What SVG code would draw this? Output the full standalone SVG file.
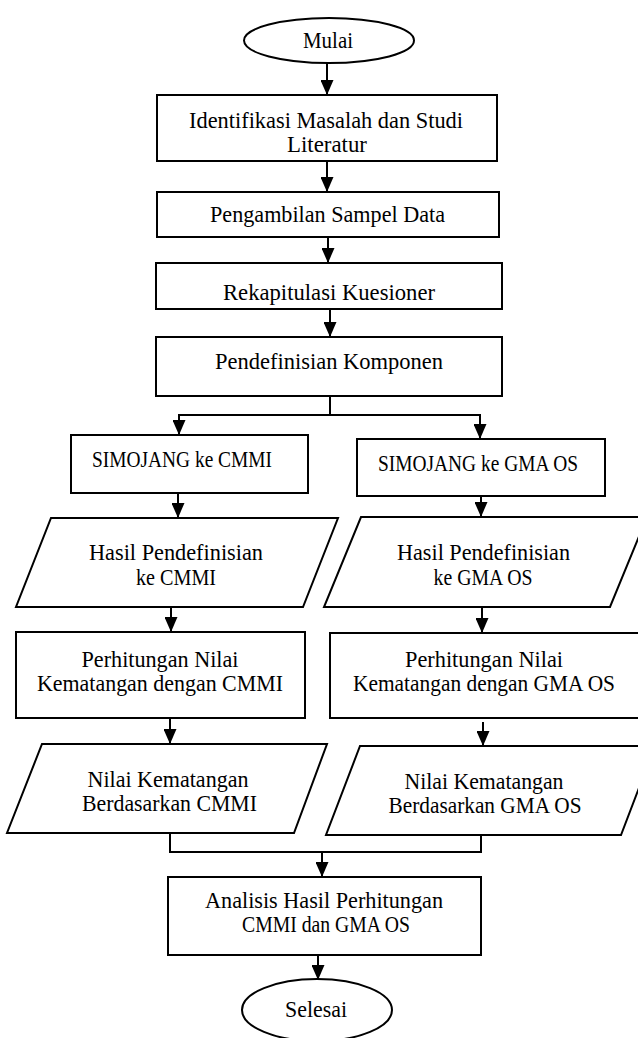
<svg xmlns="http://www.w3.org/2000/svg" width="638" height="1038" viewBox="0 0 638 1038">
<style>
  .shape { fill: #fff; stroke: #000; stroke-width: 2; }
  .t { font-family: "Liberation Serif", "Times New Roman", serif; font-size: 23px; text-anchor: middle; fill: #000; }
  .c { fill: none; stroke: #000; stroke-width: 2; }
  .a { marker-end: url(#arrow); }
</style>
<defs>
  <marker id="arrow" viewBox="0 0 10 10" refX="10" refY="5" markerWidth="15" markerHeight="13" markerUnits="userSpaceOnUse" orient="auto" preserveAspectRatio="none">
    <path d="M0,0 L10,5 L0,10 z" fill="#000"/>
  </marker>
</defs>
<rect width="638" height="1038" fill="#fff"/>

<g id="connectors">
  <path class="c a" d="M327,63 V95"/>
  <path class="c a" d="M327,161 V192"/>
  <path class="c a" d="M328,237 V263"/>
  <path class="c a" d="M330,309 V337"/>
  <path class="c" d="M330,396 V415"/>
  <path class="c a" d="M331,415 H179 V435"/>
  <path class="c a" d="M329,415 H480 V439"/>
  <path class="c a" d="M178,493 V518"/>
  <path class="c a" d="M481,496 V517"/>
  <path class="c a" d="M171,607 V632"/>
  <path class="c a" d="M482,607 V633"/>
  <path class="c a" d="M170,718 V744"/>
  <path class="c a" d="M483,722 V746"/>
  <path class="c" d="M170,833 V852 H481 V835"/>
  <path class="c a" d="M322,852 V877"/>
  <path class="c a" d="M318,955 V980"/>
</g>

<g id="mulai">
  <ellipse class="shape" cx="329" cy="40.5" rx="85" ry="22.5"/>
  <text class="t" x="328" y="48" textLength="50" lengthAdjust="spacingAndGlyphs">Mulai</text>
</g>

<g id="identifikasi">
  <rect class="shape" x="157" y="95" width="340" height="66"/>
  <text class="t" x="326" y="127.5" textLength="274" lengthAdjust="spacingAndGlyphs">Identifikasi Masalah dan Studi</text>
  <text class="t" x="327" y="152" textLength="80" lengthAdjust="spacingAndGlyphs">Literatur</text>
</g>

<g id="pengambilan">
  <rect class="shape" x="157" y="192" width="342" height="45"/>
  <text class="t" x="327.5" y="222" textLength="235" lengthAdjust="spacingAndGlyphs">Pengambilan Sampel Data</text>
</g>

<g id="rekapitulasi">
  <rect class="shape" x="156" y="263" width="346" height="46"/>
  <text class="t" x="329" y="300" textLength="212" lengthAdjust="spacingAndGlyphs">Rekapitulasi Kuesioner</text>
</g>

<g id="pendefinisian">
  <rect class="shape" x="156" y="337" width="346" height="59"/>
  <text class="t" x="329" y="369" textLength="228" lengthAdjust="spacingAndGlyphs">Pendefinisian Komponen</text>
</g>

<g id="simojang-cmmi">
  <rect class="shape" x="71" y="435" width="237" height="58"/>
  <text class="t" x="182" y="467" textLength="180" lengthAdjust="spacingAndGlyphs">SIMOJANG ke CMMI</text>
</g>

<g id="simojang-gma">
  <rect class="shape" x="357" y="439" width="248" height="57"/>
  <text class="t" x="478" y="470.5" textLength="200" lengthAdjust="spacingAndGlyphs">SIMOJANG ke GMA OS</text>
</g>

<g id="hasil-cmmi">
  <polygon class="shape" points="51,518 338,518 303,607 16,607"/>
  <text class="t" x="176" y="560" textLength="174" lengthAdjust="spacingAndGlyphs">Hasil Pendefinisian</text>
  <text class="t" x="176" y="585" textLength="80" lengthAdjust="spacingAndGlyphs">ke CMMI</text>
</g>

<g id="hasil-gma">
  <polygon class="shape" points="361,517 647,517 610,607 324,607"/>
  <text class="t" x="483.5" y="560" textLength="173" lengthAdjust="spacingAndGlyphs">Hasil Pendefinisian</text>
  <text class="t" x="483" y="584.5" textLength="99" lengthAdjust="spacingAndGlyphs">ke GMA OS</text>
</g>

<g id="perhitungan-cmmi">
  <rect class="shape" x="16" y="632" width="289" height="86"/>
  <text class="t" x="160" y="667" textLength="157" lengthAdjust="spacingAndGlyphs">Perhitungan Nilai</text>
  <text class="t" x="160" y="690.5" textLength="246" lengthAdjust="spacingAndGlyphs">Kematangan dengan CMMI</text>
</g>

<g id="perhitungan-gma">
  <rect class="shape" x="330" y="633" width="312" height="85"/>
  <text class="t" x="484" y="667" textLength="158" lengthAdjust="spacingAndGlyphs">Perhitungan Nilai</text>
  <text class="t" x="484" y="690.5" textLength="262" lengthAdjust="spacingAndGlyphs">Kematangan dengan GMA OS</text>
</g>

<g id="nilai-cmmi">
  <polygon class="shape" points="42,744 327,744 294,833 7,833"/>
  <text class="t" x="168" y="787" textLength="161" lengthAdjust="spacingAndGlyphs">Nilai Kematangan</text>
  <text class="t" x="169.5" y="810.5" textLength="175" lengthAdjust="spacingAndGlyphs">Berdasarkan CMMI</text>
</g>

<g id="nilai-gma">
  <polygon class="shape" points="360,746 655,746 621,835 326,835"/>
  <text class="t" x="484" y="789" textLength="159" lengthAdjust="spacingAndGlyphs">Nilai Kematangan</text>
  <text class="t" x="485" y="812.5" textLength="193" lengthAdjust="spacingAndGlyphs">Berdasarkan GMA OS</text>
</g>

<g id="analisis">
  <rect class="shape" x="168" y="877" width="313" height="78"/>
  <text class="t" x="324" y="908" textLength="238" lengthAdjust="spacingAndGlyphs">Analisis Hasil Perhitungan</text>
  <text class="t" x="326" y="932" textLength="168" lengthAdjust="spacingAndGlyphs">CMMI dan GMA OS</text>
</g>

<g id="selesai">
  <ellipse class="shape" cx="317" cy="1010" rx="75" ry="31"/>
  <text class="t" x="316" y="1017" textLength="62" lengthAdjust="spacingAndGlyphs">Selesai</text>
</g>
</svg>
